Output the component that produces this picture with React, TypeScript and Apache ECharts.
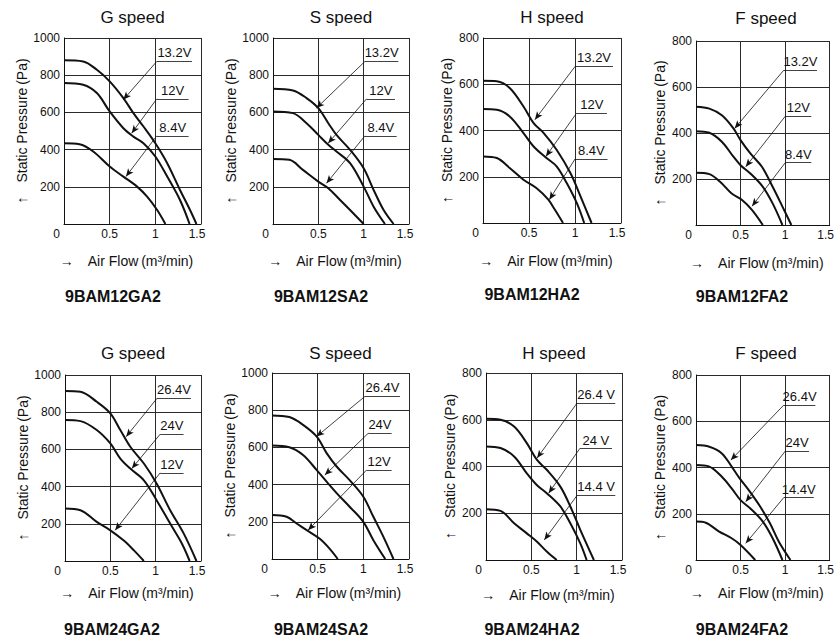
import React, { useEffect, useRef } from 'react';
import * as echarts from 'echarts';

// ---------- data ----------
const titles = ['G speed', 'S speed', 'H speed', 'F speed', 'G speed', 'S speed', 'H speed', 'F speed'];
const models = ['9BAM12GA2', '9BAM12SA2', '9BAM12HA2', '9BAM12FA2', '9BAM24GA2', '9BAM24SA2', '9BAM24HA2', '9BAM24FA2'];
const yMaxes = [1000, 1000, 800, 800, 1000, 1000, 800, 800];
const xTicks = [0, 0.5, 1, 1.5];
const voltages = [
  ['13.2V', '12V', '8.4V'],
  ['13.2V', '12V', '8.4V'],
  ['13.2V', '12V', '8.4V'],
  ['13.2V', '12V', '8.4V'],
  ['26.4V', '24V', '12V'],
  ['26.4V', '24V', '12V'],
  ['26.4 V', '24 V', '14.4 V'],
  ['26.4V', '24V', '14.4V'],
];
const X_NAME = '→\u2002\u2002Air Flow\u2009(m³/min)';
const Y_NAME = '↑\u2002\u2002Static Pressure\u2009(Pa)';

// 9BAM12GA2
const g12High = [[0, 880], [0.21, 874], [0.36, 829], [0.5, 767], [0.65, 677], [0.76, 596], [0.87, 524], [1.0, 434], [1.13, 327], [1.27, 183], [1.38, 75], [1.45, 0]];
const g12Mid = [[0, 758], [0.21, 749], [0.36, 704], [0.5, 605], [0.65, 515], [0.76, 470], [0.87, 434], [1.0, 363], [1.13, 255], [1.27, 129], [1.375, 0]];
const g12Low = [[0, 434], [0.17, 429], [0.32, 390], [0.5, 309], [0.65, 255], [0.8, 201], [0.91, 147], [1.02, 75], [1.11, 0]];
// 9BAM12SA2
const s12High = [[0, 727], [0.22, 718], [0.37, 677], [0.5, 623], [0.61, 542], [0.7, 479], [0.85, 399], [1.0, 300], [1.11, 183], [1.22, 75], [1.33, 0]];
const s12Mid = [[0, 605], [0.22, 596], [0.37, 542], [0.5, 479], [0.61, 426], [0.7, 390], [0.85, 327], [1.0, 201], [1.11, 93], [1.235, 0]];
const s12Low = [[0, 350], [0.18, 345], [0.33, 291], [0.5, 228], [0.61, 192], [0.74, 129], [0.85, 75], [1.0, 0]];
// 9BAM12HA2
const h12High = [[0, 615], [0.15, 613], [0.29, 584], [0.44, 504], [0.55, 432], [0.66, 389], [0.8, 317], [0.95, 216], [1.06, 115], [1.18, 0]];
const h12Mid = [[0, 493], [0.15, 490], [0.29, 461], [0.44, 389], [0.55, 331], [0.69, 281], [0.8, 245], [0.91, 173], [1.02, 86], [1.1, 0]];
const h12Low = [[0, 288], [0.15, 281], [0.29, 238], [0.44, 187], [0.58, 151], [0.71, 101], [0.78, 58], [0.87, 0]];
// 9BAM12FA2
const f12High = [[0, 514], [0.15, 506], [0.29, 477], [0.42, 420], [0.5, 369], [0.61, 311], [0.74, 253], [0.86, 166], [0.97, 80], [1.07, 0]];
const f12Mid = [[0, 408], [0.15, 401], [0.29, 362], [0.42, 297], [0.5, 260], [0.61, 224], [0.75, 166], [0.86, 94], [0.97, 0]];
const f12Low = [[0, 227], [0.15, 221], [0.27, 188], [0.4, 137], [0.52, 108], [0.63, 65], [0.75, 0]];
// 9BAM24GA2
const g24High = [[0, 914], [0.17, 910], [0.35, 856], [0.5, 794], [0.61, 704], [0.72, 614], [0.87, 524], [1.01, 417], [1.16, 273], [1.31, 147], [1.45, 0]];
const g24Mid = [[0, 758], [0.17, 752], [0.35, 704], [0.5, 632], [0.61, 551], [0.72, 497], [0.87, 434], [1.01, 327], [1.16, 201], [1.29, 93], [1.375, 0]];
const g24Low = [[0, 282], [0.17, 273], [0.35, 210], [0.5, 165], [0.645, 111], [0.76, 57], [0.87, 0]];
// 9BAM24SA2
const s24High = [[0, 772], [0.19, 763], [0.34, 721], [0.49, 658], [0.6, 568], [0.71, 496], [0.85, 424], [1.0, 335], [1.11, 227], [1.22, 119], [1.33, 0]];
const s24Mid = [[0, 610], [0.19, 601], [0.34, 559], [0.49, 478], [0.6, 415], [0.71, 353], [0.85, 281], [1.0, 200], [1.11, 101], [1.24, 0]];
const s24Low = [[0, 236], [0.16, 227], [0.27, 191], [0.38, 155], [0.52, 110], [0.63, 56], [0.72, 0]];
// 9BAM24HA2
const h24High = [[0, 604], [0.16, 600], [0.31, 571], [0.45, 500], [0.56, 429], [0.67, 386], [0.82, 314], [0.93, 229], [1.04, 129], [1.19, 0]];
const h24Mid = [[0, 486], [0.16, 479], [0.31, 443], [0.45, 371], [0.56, 321], [0.67, 286], [0.82, 229], [0.93, 157], [1.04, 71], [1.11, 0]];
const h24Low = [[0, 217], [0.16, 210], [0.31, 157], [0.45, 114], [0.56, 79], [0.67, 36], [0.78, 0]];
// 9BAM24FA2
const f24High = [[0, 497], [0.15, 490], [0.29, 461], [0.4, 404], [0.49, 353], [0.59, 303], [0.72, 231], [0.83, 159], [0.93, 79], [1.06, 0]];
const f24Mid = [[0, 411], [0.15, 404], [0.29, 360], [0.4, 310], [0.5, 259], [0.61, 223], [0.75, 166], [0.86, 94], [0.97, 0]];
const f24Low = [[0, 166], [0.11, 161], [0.26, 123], [0.4, 94], [0.5, 65], [0.665, 0]];

const curves = [
  [g12High, g12Mid, g12Low],
  [s12High, s12Mid, s12Low],
  [h12High, h12Mid, h12Low],
  [f12High, f12Mid, f12Low],
  [g24High, g24Mid, g24Low],
  [s24High, s24Mid, s24Low],
  [h24High, h24Mid, h24Low],
  [f24High, f24Mid, f24Low],
];

// callouts in data units: [underline start x, underline end x, underline y, arrow tip x, arrow tip y]
const notes12G = [[1.016, 1.401, 874, 0.649, 668], [1.016, 1.364, 673, 0.741, 488], [1.016, 1.364, 474, 0.678, 255]];
const notes12S = [[1.014, 1.382, 874, 0.479, 623], [1.032, 1.345, 673, 0.608, 434], [1.014, 1.364, 474, 0.59, 219]];
const notes12H = [[1.001, 1.413, 677, 0.564, 447], [1.019, 1.347, 476, 0.684, 288], [1.001, 1.354, 277, 0.721, 101]];
const notes12F = [[0.985, 1.358, 673, 0.434, 420], [1.002, 1.294, 473, 0.558, 253], [1.002, 1.294, 271, 0.629, 82]];
const notes24G = [[1.014, 1.389, 874, 0.674, 668], [1.05, 1.308, 682, 0.737, 497], [1.05, 1.308, 474, 0.553, 165]];
const notes24S = [[1.017, 1.401, 874, 0.487, 658], [1.054, 1.31, 676, 0.578, 451], [1.035, 1.31, 478, 0.395, 155]];
const notes24H = [[1.004, 1.426, 671, 0.563, 436], [1.033, 1.39, 476, 0.691, 286], [1.004, 1.426, 276, 0.643, 86]];
const notes24F = [[0.985, 1.34, 670, 0.391, 432], [1.002, 1.269, 471, 0.558, 252], [0.985, 1.322, 270, 0.558, 72]];
const notes = [notes12G, notes12S, notes12H, notes12F, notes24G, notes24S, notes24H, notes24F];

// ---------- layout ----------
const LAYOUT = [
  { left: 64, top: 38, width: 137, height: 186, titleY: 17, modelX: 113, modelY: 296, xGap: 30 },
  { left: 273, top: 38, width: 136, height: 186, titleY: 17, modelX: 321, modelY: 296, xGap: 30 },
  { left: 483, top: 38, width: 138, height: 185, titleY: 17, modelX: 532, modelY: 294, xGap: 31 },
  { left: 696, top: 41, width: 140, height: 184, titleY: 18, modelX: 742, modelY: 296, xGap: 31 },
  { left: 65, top: 375, width: 136, height: 186, titleY: 353, modelX: 112, modelY: 629, xGap: 25 },
  { left: 272, top: 373, width: 137, height: 186, titleY: 353, modelX: 321, modelY: 629, xGap: 27 },
  { left: 486, top: 373, width: 136, height: 187, titleY: 353, modelX: 532, modelY: 629, xGap: 28 },
  { left: 696, top: 375, width: 140, height: 185, titleY: 353, modelX: 742, modelY: 629, xGap: 26 },
];

const FONT = '"Liberation Sans", Arial, Helvetica, sans-serif';
const INK = '#111';
const GRID_INK = '#2a2a2a';

function buildOption() {
  const grid: any[] = [];
  const xAxis: any[] = [];
  const yAxis: any[] = [];
  const series: any[] = [];
  const graphic: any[] = [];

  LAYOUT.forEach((L, i) => {
    grid.push({ left: L.left, top: L.top, width: L.width, height: L.height });
    xAxis.push({
      type: 'value', gridIndex: i, min: xTicks[0], max: xTicks[xTicks.length - 1], interval: 0.5,
      name: X_NAME, nameLocation: 'middle', nameGap: L.xGap,
      nameTextStyle: { fontFamily: FONT, fontSize: 14, color: INK, padding: [0, 12, 0, 0] },
      axisLine: { show: true, onZero: false, lineStyle: { color: INK, width: 1 } },
      axisTick: { show: false },
      axisLabel: {
        fontFamily: FONT, fontSize: 12, color: INK, margin: 4,
        formatter: (v: number) => (v === 0 ? '{z|0}' : v === 1.5 ? '{m|1.5}' : String(v)),
        rich: {
          z: { fontFamily: FONT, fontSize: 12, color: INK, padding: [0, 15, 0, 0] },
          m: { fontFamily: FONT, fontSize: 12, color: INK, padding: [0, 8, 0, 0] },
        },
      },
      splitLine: { show: true, lineStyle: { color: GRID_INK, width: 1 } },
    });
    yAxis.push({
      type: 'value', gridIndex: i, min: 0, max: yMaxes[i], interval: 200,
      name: Y_NAME, nameLocation: 'middle', nameGap: 29, nameRotate: 90,
      nameTextStyle: { fontFamily: FONT, fontSize: 14, color: INK },
      axisLine: { show: true, onZero: false, lineStyle: { color: INK, width: 1 } },
      axisTick: { show: false },
      axisLabel: {
        fontFamily: FONT, fontSize: 12, color: INK, margin: 4, showMinLabel: false,
        formatter: (v: number) => String(v),
      },
      splitLine: { show: true, lineStyle: { color: GRID_INK, width: 1 } },
    });

    curves[i].forEach((curve, k) => {
      const n = notes[i][k];
      series.push({
        type: 'line', xAxisIndex: i, yAxisIndex: i, data: curve,
        smooth: 0.35, symbol: 'none', silent: true, z: 3,
        lineStyle: { color: INK, width: 2 },
        markLine: {
          silent: true, symbol: ['none', 'none'], animation: false,
          lineStyle: { color: INK, width: 0.8, type: 'solid' },
          emphasis: { disabled: true },
          data: [
            [
              {
                coord: [n[0], n[2]],
                label: {
                  show: true, formatter: voltages[i][k], position: 'insideMiddleTop', distance: 2,
                  fontFamily: FONT, fontSize: 13, color: INK,
                },
              },
              { coord: [n[1], n[2]] },
            ],
            [
              { coord: [n[0], n[2]], symbol: 'none', label: { show: false } },
              { coord: [n[3], n[4]], symbol: 'arrow', symbolSize: [5, 8] },
            ],
          ],
        },
      });
    });

    const cx = L.left + L.width / 2;
    graphic.push({
      type: 'text', x: cx, y: L.titleY, silent: true,
      style: { text: titles[i], fontFamily: FONT, fontSize: 17, fill: INK, align: 'center', verticalAlign: 'middle' },
    });
    graphic.push({
      type: 'text', x: L.modelX, y: L.modelY, silent: true,
      style: { text: models[i], fontFamily: FONT, fontSize: 16, fontWeight: 'bold', fill: INK, align: 'center', verticalAlign: 'middle' },
    });
  });

  return { animation: false, backgroundColor: '#fff', grid, xAxis, yAxis, series, graphic };
}

export default function App() {
  const ref = useRef<HTMLDivElement>(null);
  useEffect(() => {
    if (!ref.current) return;
    const chart = echarts.init(ref.current, undefined, { renderer: 'svg' });
    chart.setOption(buildOption() as any);
    return () => chart.dispose();
  }, []);
  return (
    <div
      ref={ref}
      style={{ position: 'fixed', left: 0, top: 0, width: 837, height: 639, background: '#fff' }}
    />
  );
}
